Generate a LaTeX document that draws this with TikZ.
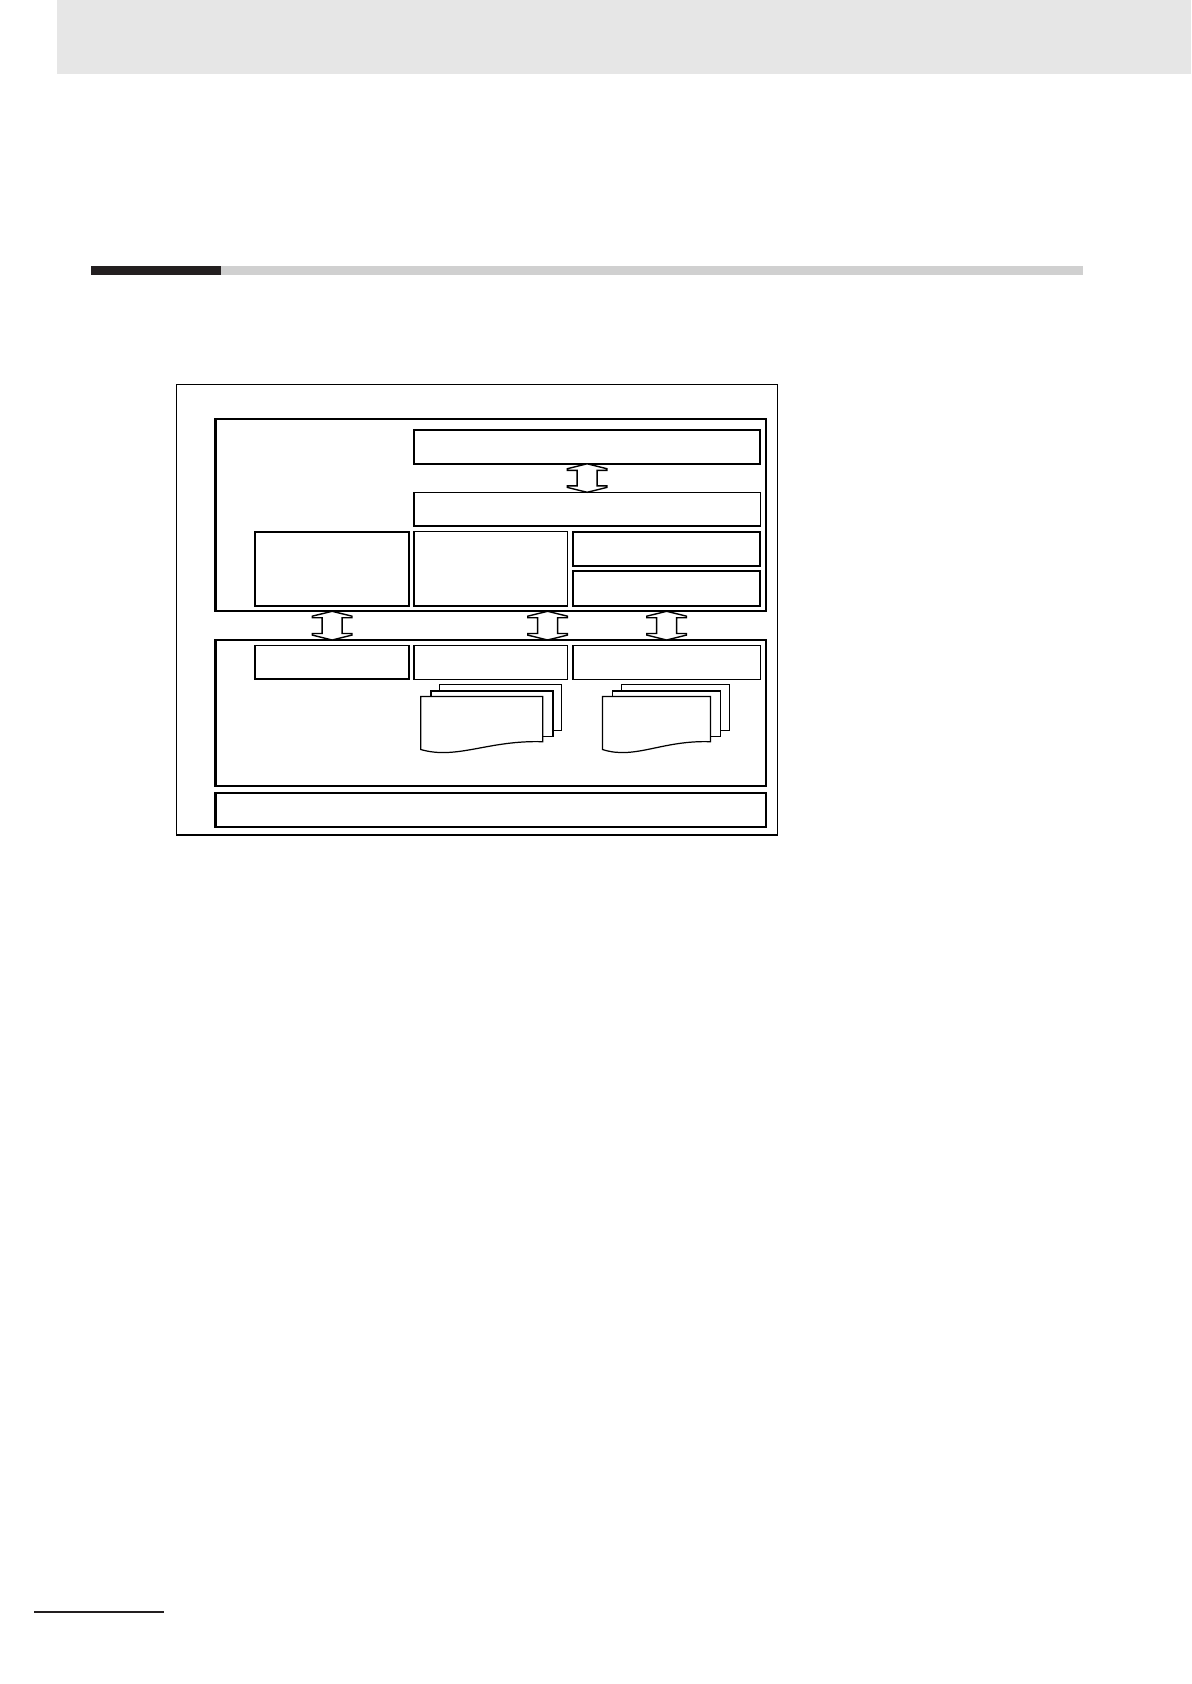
\documentclass[tikz,border=0pt]{standalone}
\usetikzlibrary{calc, positioning}

\definecolor{headgray}{RGB}{230,230,230}
\definecolor{rulegray}{RGB}{208,208,208}
\definecolor{ruledark}{RGB}{35,31,32}

\tikzset{
  box/.style={draw, rectangle, inner sep=0pt, outer sep=0pt, anchor=north west},
  thinbox/.style={box, line width=0.6pt},
  midbox/.style={box, line width=0.85pt},
  thickbox/.style={box, line width=1.15pt},
  sheet/.style={draw, fill=white, line width=0.6pt},
  dblarrow/.style={draw, fill=white, line width=0.8pt, to path={
    let \p1=(\tikztostart), \p2=(\tikztotarget) in
    (\x1,\y1) -- (\x1+11.3pt,\y1-2.8pt) -- (\x1+11.3pt,\y1-3.7pt) -- (\x1+5.7pt,\y1-3.7pt)
    -- (\x1+5.7pt,\y2+3.7pt) -- (\x1+11.3pt,\y2+3.7pt) -- (\x1+11.3pt,\y2+2.8pt) -- (\x1,\y2)
    -- (\x1-11.3pt,\y2+2.8pt) -- (\x1-11.3pt,\y2+3.7pt) -- (\x1-5.7pt,\y2+3.7pt)
    -- (\x1-5.7pt,\y1-3.7pt) -- (\x1-11.3pt,\y1-3.7pt) -- (\x1-11.3pt,\y1-2.8pt) -- cycle}}
}

\begin{document}
\begin{tikzpicture}[x=0.02cm, y=-0.02cm]
  \useasboundingbox (0,0) rectangle (1191,1684);

  % page furniture
  \fill[headgray] (57,0) rectangle (1191,73.5);
  \fill[rulegray] (221,265.7) rectangle (1082.7,275);
  \fill[ruledark] (91,265.7) rectangle (221,274.8);
  \fill[ruledark] (34,1611) rectangle (164,1613);

  % outer frame and layers
  \node[box, line width=0.7pt, minimum width=12.016cm, minimum height=9.014cm] (frame) at (176.5,384.3) {};
  \node[thickbox, minimum width=11.01cm, minimum height=3.842cm] (upper) at (215.5,419.2) {};
  \node[thickbox, minimum width=11.01cm, minimum height=2.93cm] (lower) at (215.5,640) {};
  \node[thickbox, minimum width=11.01cm, minimum height=0.686cm] (base) at (215.5,792.7) {};

  % upper layer
  \node[thickbox, minimum width=6.926cm, minimum height=0.676cm] (topbar) at (414,430) {};
  \node[thinbox, minimum width=6.926cm, minimum height=0.674cm] (midbar) at (414,492.3) {};
  \node[thickbox, minimum width=3.078cm, minimum height=1.482cm] (ubox1) at (255.2,531.7) {};
  \node[midbox, minimum width=3.072cm, minimum height=1.482cm] (ubox2) at (414,531.7) {};
  \node[thickbox, minimum width=3.746cm, minimum height=0.682cm] (ubox3a) at (573,531.7) {};
  \node[thickbox, minimum width=3.746cm, minimum height=0.69cm] (ubox3b) at (573,571.4) {};

  % lower layer
  \node[midbox, minimum width=3.078cm, minimum height=0.678cm] (lbox1) at (255.2,645.3) {};
  \node[thinbox, minimum width=3.072cm, minimum height=0.678cm] (lbox2) at (414,645.3) {};
  \node[thinbox, minimum width=3.746cm, minimum height=0.678cm] (lbox3) at (573,645.3) {};

  % document stacks
  \foreach \sx/\sw in {439.7/122, 621.5/108} {
    \draw[sheet] (\sx,684.8) rectangle ++(\sw,46);
    \draw[sheet, line width=1pt] (\sx-9,690.8) rectangle ++(\sw,45.6);
    \draw[sheet, line width=0.7pt] (\sx-19,696.5) -- ++(\sw,0) -- (\sx-19+\sw,741.7)
      .. controls (\sx-19+0.55*\sw,740) and (\sx-19+0.3*\sw,760) .. (\sx-19,749.5) -- cycle;
  }

  % arrows
  \draw[dblarrow] (topbar.south) to (midbar.north);
  \draw[dblarrow] (upper.south -| ubox1.south) to (lower.north -| lbox1.north);
  \draw[dblarrow] ($(upper.south -| ubox2.east)+(-20,0)$) to ($(lower.north -| lbox2.east)+(-20,0)$);
  \draw[dblarrow] (upper.south -| ubox3b.south) to (lower.north -| lbox3.north);
\end{tikzpicture}
\end{document}
